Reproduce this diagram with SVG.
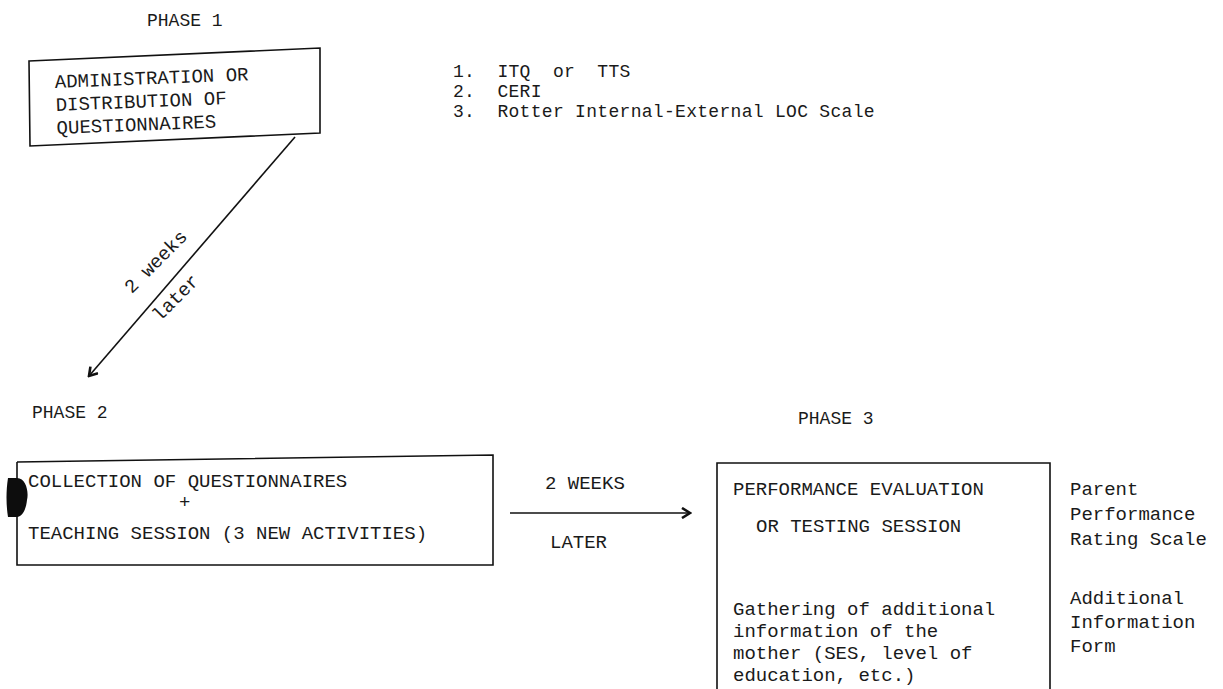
<svg xmlns="http://www.w3.org/2000/svg" width="1223" height="689" viewBox="0 0 1223 689">
<style>
  .t { font-family: "Liberation Mono", "DejaVu Sans Mono", monospace; font-size: 19px; fill: #1a1a1a; }
  .ls { font-family: "Liberation Mono", "DejaVu Sans Mono", monospace; font-size: 18px; letter-spacing: 0.3px; fill: #1a1a1a; }
  .ph { font-family: "Liberation Mono", "DejaVu Sans Mono", monospace; font-size: 18px; fill: #1a1a1a; }
  .box { fill: none; stroke: #111; stroke-width: 1.6; }
  .conn { fill: none; stroke: #111; stroke-width: 1.6; }
</style>
<defs>
  <marker id="arr" viewBox="0 0 12 12" refX="10" refY="6" markerWidth="12" markerHeight="12" markerUnits="userSpaceOnUse" orient="auto">
    <path d="M2,1 L10,6 L2,11" fill="none" stroke="#111" stroke-width="2.6" stroke-linejoin="miter"/>
  </marker>
</defs>
<rect width="1223" height="689" fill="#ffffff"/>

<g id="phase1">
  <text class="ph" x="147" y="26">PHASE 1</text>
  <polygon class="box" points="29,61 320,48 320,133 30,146"/>
  <g transform="rotate(-2.3 55 88)">
    <text class="t" x="55" y="88">ADMINISTRATION OR</text>
    <text class="t" x="55" y="111">DISTRIBUTION OF</text>
    <text class="t" x="55" y="134">QUESTIONNAIRES</text>
  </g>
</g>

<g id="instruments1">
  <text class="ls" x="453" y="77" xml:space="preserve">1.  ITQ  or  TTS</text>
  <text class="ls" x="453" y="97" xml:space="preserve">2.  CERI</text>
  <text class="ls" x="453" y="117" xml:space="preserve">3.  Rotter Internal-External LOC Scale</text>
</g>

<g id="phase2">
  <text class="ph" x="32" y="418">PHASE 2</text>
  <polyline class="box" points="17,462 493,455 493,565 17,565 17,462"/>
  <path d="M17,478 C26,478 29,492 27,500 C26,510 22,517 17,517 L8,517 C6,505 6,490 8,478 Z" fill="#0d0d0d"/>
  <text class="t" x="28" y="487">COLLECTION OF QUESTIONNAIRES</text>
  <text class="t" x="179" y="508">+</text>
  <text class="t" x="28" y="539">TEACHING SESSION (3 NEW ACTIVITIES)</text>
</g>

<g id="phase3">
  <text class="ph" x="798" y="424">PHASE 3</text>
  <polyline class="box" points="717,689 717,463 1050,463 1050,689"/>
  <text class="t" x="733" y="495">PERFORMANCE EVALUATION</text>
  <text class="t" x="756" y="532">OR TESTING SESSION</text>
  <text class="t" x="733" y="615">Gathering of additional</text>
  <text class="t" x="733" y="637">information of the</text>
  <text class="t" x="733" y="659">mother (SES, level of</text>
  <text class="t" x="733" y="681">education, etc.)</text>
</g>

<g id="instruments3">
  <text class="t" x="1070" y="495">Parent</text>
  <text class="t" x="1070" y="520">Performance</text>
  <text class="t" x="1070" y="545">Rating Scale</text>
  <text class="t" x="1070" y="604">Additional</text>
  <text class="t" x="1070" y="628">Information</text>
  <text class="t" x="1070" y="652">Form</text>
</g>

<g id="connectors">
  <line class="conn" x1="295" y1="137" x2="89" y2="376" marker-end="url(#arr)"/>
  <text class="t" transform="translate(160 266) rotate(-45)" text-anchor="middle">2 weeks</text>
  <text class="t" transform="translate(180 302) rotate(-45)" text-anchor="middle">later</text>
  <line class="conn" x1="510" y1="513" x2="690" y2="513" marker-end="url(#arr)"/>
  <text class="t" x="545" y="489">2 WEEKS</text>
  <text class="t" x="550" y="548">LATER</text>
</g>
</svg>
